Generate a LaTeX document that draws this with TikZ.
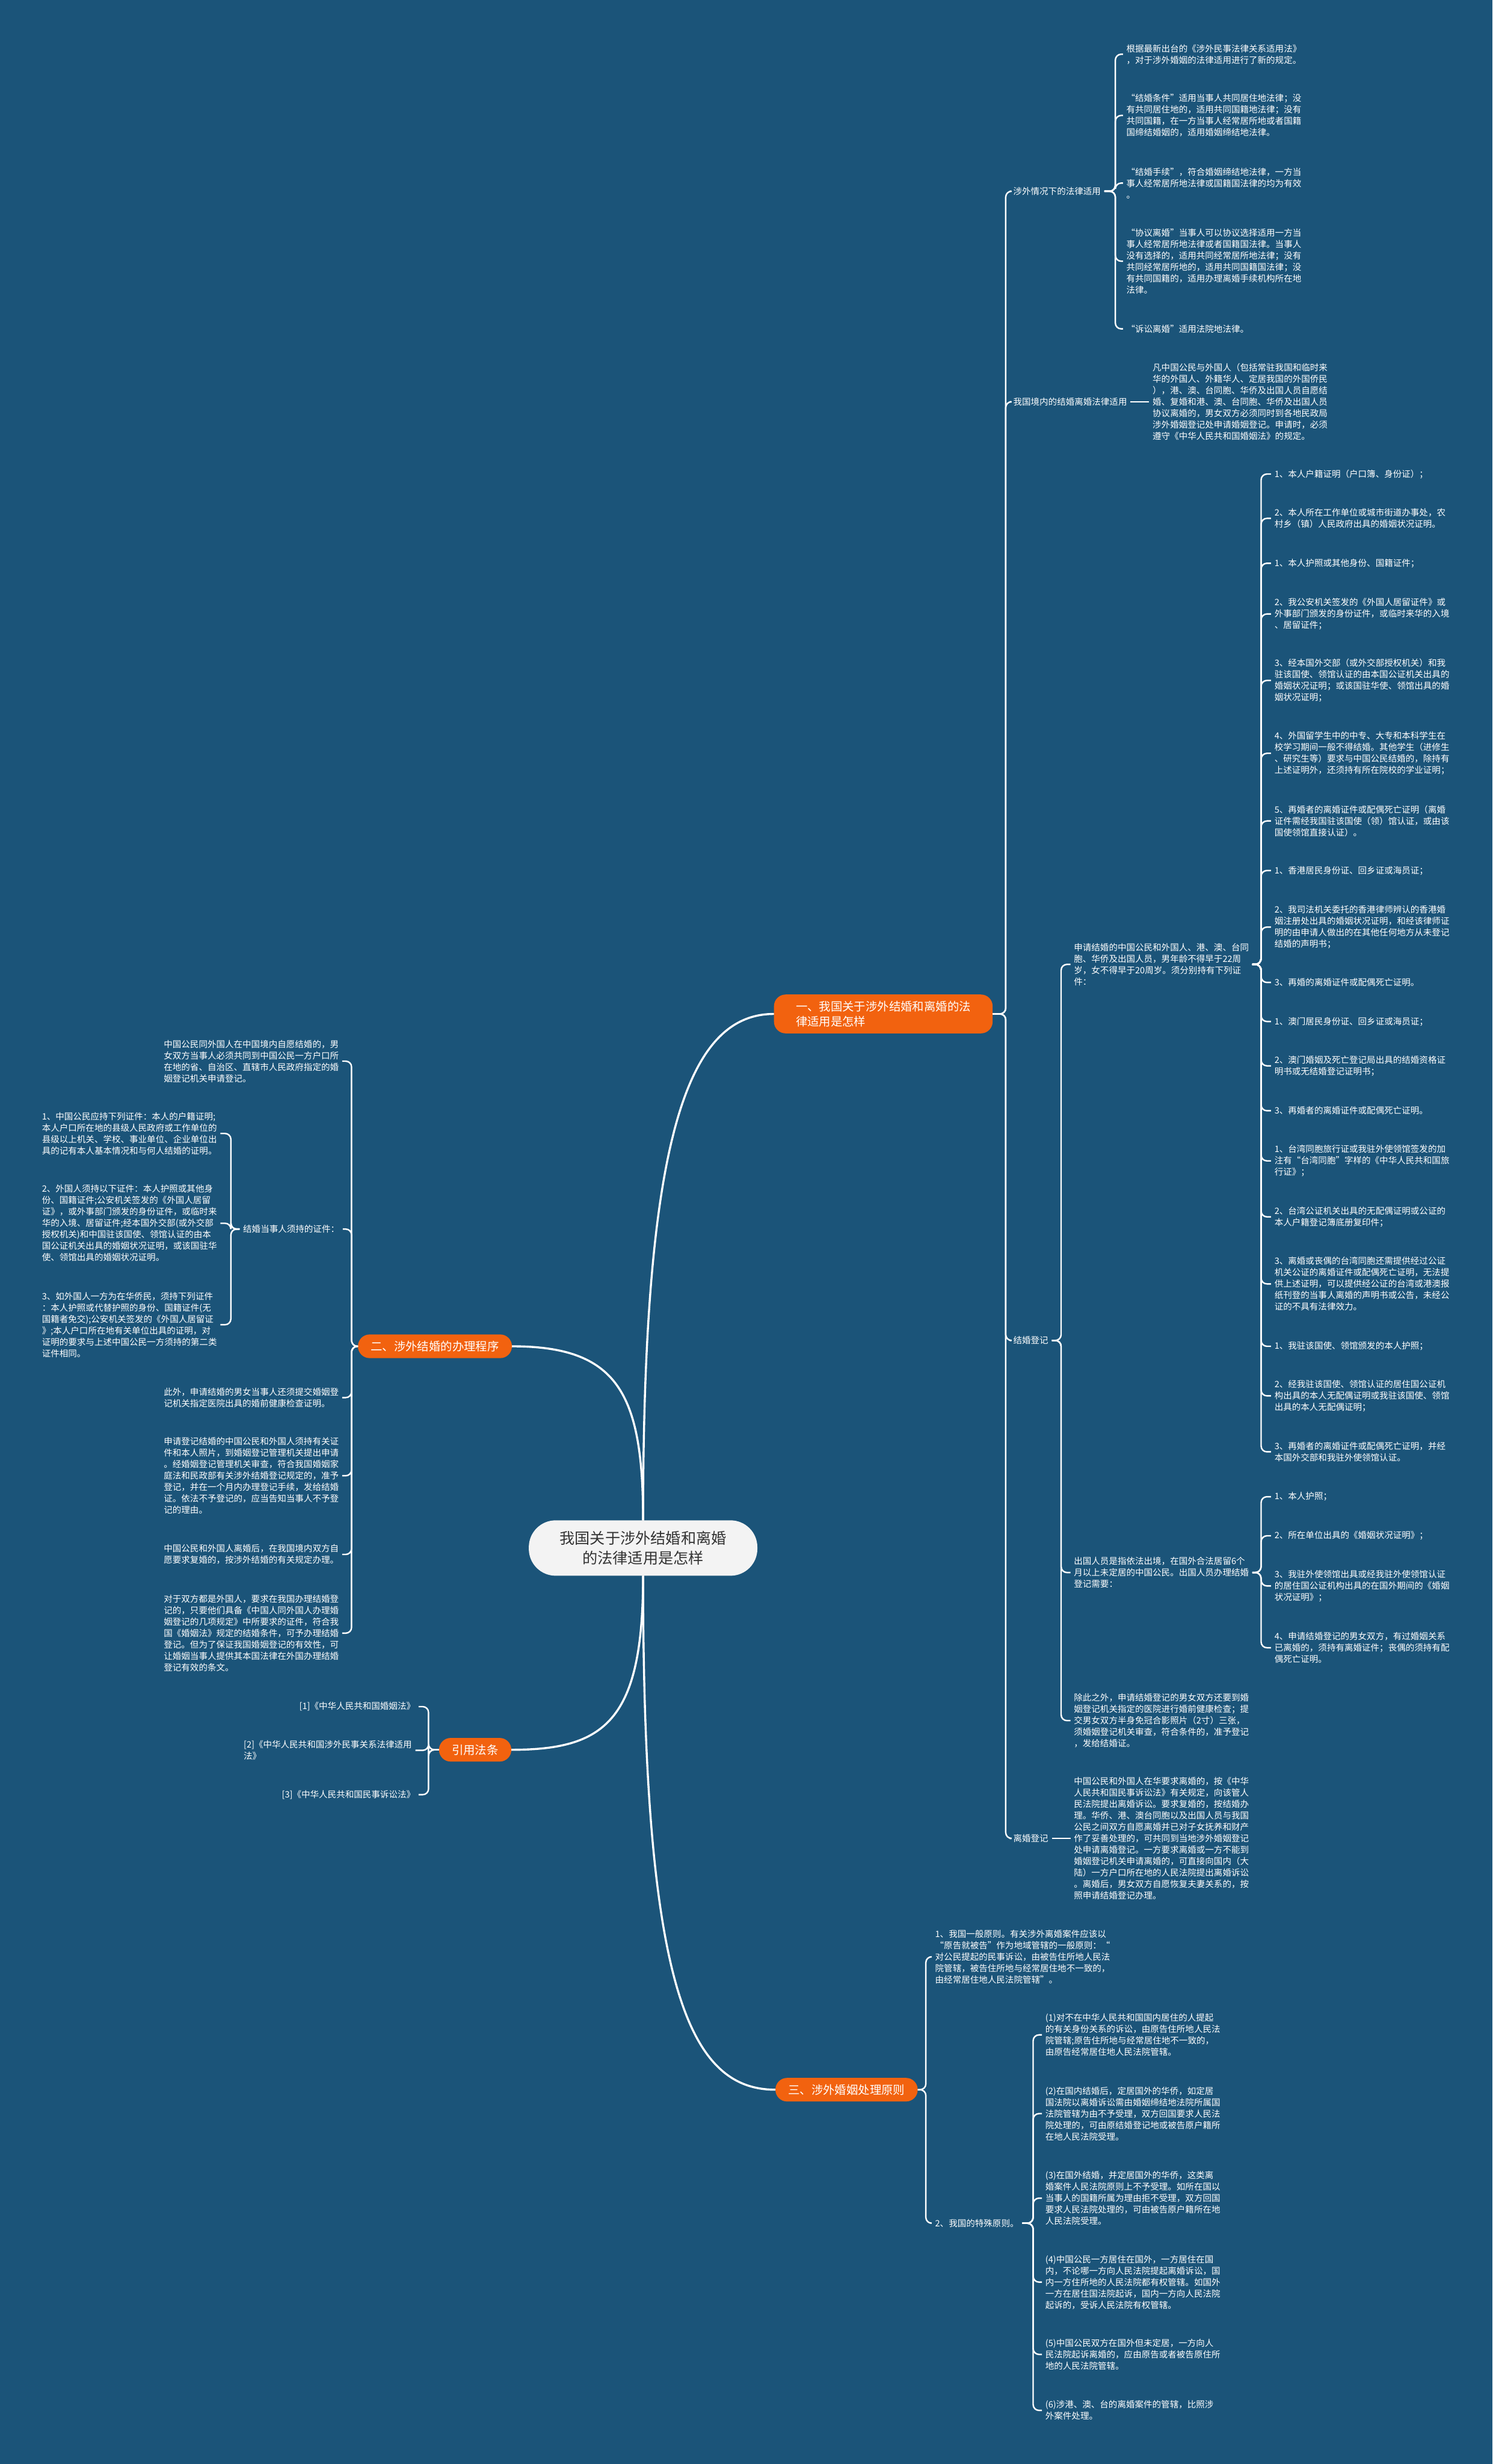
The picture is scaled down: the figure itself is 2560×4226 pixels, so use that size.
\documentclass[tikz,border=0pt]{standalone}
\usepackage{fontspec}
\setmainfont{Noto Sans CJK SC}
\usetikzlibrary{positioning}

\definecolor{bgblue}{HTML}{1B5479}
\definecolor{topicorange}{HTML}{F2620F}
\definecolor{rootfill}{HTML}{F3F3F3}
\definecolor{roottext}{HTML}{333333}

\newcommand{\leaffont}{\fontsize{15}{19.6}\selectfont}
\newcommand{\topicfont}{\fontsize{20}{26}\selectfont}
\newcommand{\rootfont}{\fontsize{26}{34}\selectfont}

\tikzstyle{base}=[x=1pt, y=-1pt, inner sep=0pt, outer sep=0pt]
\tikzstyle{leaf}=[text=white, align=left, anchor=west, inner sep=0pt, font=\leaffont]
\tikzstyle{leafr}=[leaf, anchor=east]
\tikzstyle{topic}=[fill=topicorange, text=white, align=left, rounded corners=20pt, inner xsep=22pt, inner ysep=11pt, font=\topicfont]
\tikzstyle{root}=[fill=rootfill, text=roottext, align=center, rounded corners=46pt, minimum width=392pt, minimum height=95pt, font=\rootfont]
\tikzstyle{link}=[draw=white, line width=2.5pt, rounded corners=10pt, shorten <=6pt, shorten >=6pt]
\tikzstyle{stem}=[link, shorten <=0pt]
\tikzstyle{mainlink}=[draw=white, line width=3.5pt]

\begin{document}
\begin{tikzpicture}[base]
        \useasboundingbox (0,0) rectangle (2560,4226);
        \fill[bgblue] (0,0) rectangle (2560,4226);

        % centre and main topics
        \node[root] (root) at (1103,2655) {我国关于涉外结婚和离婚\\的法律适用是怎样};
        \node[topic, minimum width=375pt, inner xsep=30pt] (b1) at (1515,1739) {一、我国关于涉外结婚和离婚的法\\律适用是怎样};
        \node[topic] (b2) at (746,2309) {二、涉外结婚的办理程序};
        \node[topic] (b3) at (1452,3584) {三、涉外婚姻处理原则};
        \node[topic] (b4) at (815,3001) {引用法条};

        \draw[mainlink] (root.north) .. controls +(0,-650) and +(-150,0) .. (b1.west);
        \draw[mainlink] (root.north) .. controls +(0,-220) and +(180,0) .. (b2.east);
        \draw[mainlink] (root.south) .. controls +(0,250) and +(160,0) .. (b4.east);
        \draw[mainlink] (root.south) .. controls +(0,700) and +(-150,0) .. (b3.west);

        % trunk positions
        \coordinate (t1) at (1725,0);
        \coordinate (t2) at (1913,0);
        \coordinate (t3) at (1820,0);
        \coordinate (t4) at (2163,0);
        \coordinate (t5) at (603,0);
        \coordinate (t6) at (396,0);
        \coordinate (t7) at (735,0);
        \coordinate (t8) at (1588,0);
        \coordinate (t9) at (1772,0);

        % branch one
        \node[leaf] (l11) at (1738,328) {涉外情况下的法律适用};
        \node[leaf] (l12) at (1738,689) {我国境内的结婚离婚法律适用};
        \node[leaf] (l13) at (1738,2299) {结婚登记};
        \node[leaf] (l14) at (1738,3153) {离婚登记};

        \node[leaf] (a1) at (1932,93) {根据最新出台的《涉外民事法律关系适用法》\\，对于涉外婚姻的法律适用进行了新的规定。};
        \node[leaf] (a2) at (1932,198) {“结婚条件”适用当事人共同居住地法律；没\\有共同居住地的，适用共同国籍地法律；没有\\共同国籍，在一方当事人经常居所地或者国籍\\国缔结婚姻的，适用婚姻缔结地法律。};
        \node[leaf] (a3) at (1932,314) {“结婚手续”，符合婚姻缔结地法律，一方当\\事人经常居所地法律或国籍国法律的均为有效\\。};
        \node[leaf] (a4) at (1932,448) {“协议离婚”当事人可以协议选择适用一方当\\事人经常居所地法律或者国籍国法律。当事人\\没有选择的，适用共同经常居所地法律；没有\\共同经常居所地的，适用共同国籍国法律；没\\有共同国籍的，适用办理离婚手续机构所在地\\法律。};
        \node[leaf] (a5) at (1932,564) {“诉讼离婚”适用法院地法律。};
        \node[leaf] (a6) at (1977,689) {凡中国公民与外国人（包括常驻我国和临时来\\华的外国人、外籍华人、定居我国的外国侨民\\），港、澳、台同胞、华侨及出国人员自愿结\\婚、复婚和港、澳、台同胞、华侨及出国人员\\协议离婚的，男女双方必须同时到各地民政局\\涉外婚姻登记处申请婚姻登记。申请时，必须\\遵守《中华人民共和国婚姻法》的规定。};

        \node[leaf] (c1) at (1842,1654) {申请结婚的中国公民和外国人、港、澳、台同\\胞、华侨及出国人员，男年龄不得早于22周\\岁，女不得早于20周岁。须分别持有下列证\\件：};
        \node[leaf] (c2) at (1842,2697) {出国人员是指依法出境，在国外合法居留6个\\月以上未定居的中国公民。出国人员办理结婚\\登记需要：};
        \node[leaf] (c3) at (1842,2951) {除此之外，申请结婚登记的男女双方还要到婚\\姻登记机关指定的医院进行婚前健康检查；提\\交男女双方半身免冠合影照片（2寸）三张，\\须婚姻登记机关审查，符合条件的，准予登记\\，发给结婚证。};
        \node[leaf] (c4) at (1842,3153) {中国公民和外国人在华要求离婚的，按《中华\\人民共和国民事诉讼法》有关规定，向该管人\\民法院提出离婚诉讼。要求复婚的，按结婚办\\理。华侨、港、澳台同胞以及出国人员与我国\\公民之间双方自愿离婚并已对子女抚养和财产\\作了妥善处理的，可共同到当地涉外婚姻登记\\处申请离婚登记。一方要求离婚或一方不能到\\婚姻登记机关申请离婚的，可直接向国内（大\\陆）一方户口所在地的人民法院提出离婚诉讼\\。离婚后，男女双方自愿恢复夫妻关系的，按\\照申请结婚登记办理。};

        \node[leaf] (d1) at (2186,813) {1、本人户籍证明（户口簿、身份证）；};
        \node[leaf] (d2) at (2186,889) {2、本人所在工作单位或城市街道办事处，农\\村乡（镇）人民政府出具的婚姻状况证明。};
        \node[leaf] (d3) at (2186,966) {1、本人护照或其他身份、国籍证件；};
        \node[leaf] (d4) at (2186,1053) {2、我公安机关签发的《外国人居留证件》或\\外事部门颁发的身份证件，或临时来华的入境\\、居留证件；};
        \node[leaf] (d5) at (2186,1167) {3、经本国外交部（或外交部授权机关）和我\\驻该国使、领馆认证的由本国公证机关出具的\\婚姻状况证明；或该国驻华使、领馆出具的婚\\姻状况证明；};
        \node[leaf] (d6) at (2186,1292) {4、外国留学生中的中专、大专和本科学生在\\校学习期间一般不得结婚。其他学生（进修生\\、研究生等）要求与中国公民结婚的，除持有\\上述证明外，还须持有所在院校的学业证明；};
        \node[leaf] (d7) at (2186,1408) {5、再婚者的离婚证件或配偶死亡证明（离婚\\证件需经我国驻该国使（领）馆认证，或由该\\国使领馆直接认证）。};
        \node[leaf] (d8) at (2186,1493) {1、香港居民身份证、回乡证或海员证；};
        \node[leaf] (d9) at (2186,1590) {2、我司法机关委托的香港律师辨认的香港婚\\姻注册处出具的婚姻状况证明，和经该律师证\\明的由申请人做出的在其他任何地方从未登记\\结婚的声明书；};
        \node[leaf] (d10) at (2186,1685) {3、再婚的离婚证件或配偶死亡证明。};
        \node[leaf] (d11) at (2186,1752) {1、澳门居民身份证、回乡证或海员证；};
        \node[leaf] (d12) at (2186,1828) {2、澳门婚姻及死亡登记局出具的结婚资格证\\明书或无结婚登记证明书；};
        \node[leaf] (d13) at (2186,1905) {3、再婚者的离婚证件或配偶死亡证明。};
        \node[leaf] (d14) at (2186,1991) {1、台湾同胞旅行证或我驻外使领馆签发的加\\注有“台湾同胞”字样的《中华人民共和国旅\\行证》；};
        \node[leaf] (d15) at (2186,2087) {2、台湾公证机关出具的无配偶证明或公证的\\本人户籍登记簿底册复印件；};
        \node[leaf] (d16) at (2186,2202) {3、离婚或丧偶的台湾同胞还需提供经过公证\\机关公证的离婚证件或配偶死亡证明，无法提\\供上述证明，可以提供经公证的台湾或港澳报\\纸刊登的当事人离婚的声明书或公告，未经公\\证的不具有法律效力。};
        \node[leaf] (d17) at (2186,2309) {1、我驻该国使、领馆颁发的本人护照；};
        \node[leaf] (d18) at (2186,2394) {2、经我驻该国使、领馆认证的居住国公证机\\构出具的本人无配偶证明或我驻该国使、领馆\\出具的本人无配偶证明；};
        \node[leaf] (d19) at (2186,2490) {3、再婚者的离婚证件或配偶死亡证明，并经\\本国外交部和我驻外使领馆认证。};
        \node[leaf] (d20) at (2186,2567) {1、本人护照；};
        \node[leaf] (d21) at (2186,2634) {2、所在单位出具的《婚姻状况证明》；};
        \node[leaf] (d22) at (2186,2720) {3、我驻外使领馆出具或经我驻外使领馆认证\\的居住国公证机构出具的在国外期间的《婚姻\\状况证明》；};
        \node[leaf] (d23) at (2186,2826) {4、申请结婚登记的男女双方，有过婚姻关系\\已离婚的，须持有离婚证件；丧偶的须持有配\\偶死亡证明。};

        \draw[stem] (b1.east) -- (b1.east -| t1) |- (l11.west);
        \draw[stem] (b1.east) -- (b1.east -| t1) |- (l12.west);
        \draw[stem] (b1.east) -- (b1.east -| t1) |- (l13.west);
        \draw[stem] (b1.east) -- (b1.east -| t1) |- (l14.west);
        \draw[link] (l11.east) -- (l11.east -| t2) |- (a1.west);
        \draw[link] (l11.east) -- (l11.east -| t2) |- (a2.west);
        \draw[link] (l11.east) -- (l11.east -| t2) |- (a3.west);
        \draw[link] (l11.east) -- (l11.east -| t2) |- (a4.west);
        \draw[link] (l11.east) -- (l11.east -| t2) |- (a5.west);
        \draw[link] (l12.east) -- (a6.west);
        \draw[link] (l13.east) -- (l13.east -| t3) |- (c1.west);
        \draw[link] (l13.east) -- (l13.east -| t3) |- (c2.west);
        \draw[link] (l13.east) -- (l13.east -| t3) |- (c3.west);
        \draw[link] (l14.east) -- (c4.west);
        \draw[link] (c1.east) -- (c1.east -| t4) |- (d1.west);
        \draw[link] (c1.east) -- (c1.east -| t4) |- (d2.west);
        \draw[link] (c1.east) -- (c1.east -| t4) |- (d3.west);
        \draw[link] (c1.east) -- (c1.east -| t4) |- (d4.west);
        \draw[link] (c1.east) -- (c1.east -| t4) |- (d5.west);
        \draw[link] (c1.east) -- (c1.east -| t4) |- (d6.west);
        \draw[link] (c1.east) -- (c1.east -| t4) |- (d7.west);
        \draw[link] (c1.east) -- (c1.east -| t4) |- (d8.west);
        \draw[link] (c1.east) -- (c1.east -| t4) |- (d9.west);
        \draw[link] (c1.east) -- (c1.east -| t4) |- (d10.west);
        \draw[link] (c1.east) -- (c1.east -| t4) |- (d11.west);
        \draw[link] (c1.east) -- (c1.east -| t4) |- (d12.west);
        \draw[link] (c1.east) -- (c1.east -| t4) |- (d13.west);
        \draw[link] (c1.east) -- (c1.east -| t4) |- (d14.west);
        \draw[link] (c1.east) -- (c1.east -| t4) |- (d15.west);
        \draw[link] (c1.east) -- (c1.east -| t4) |- (d16.west);
        \draw[link] (c1.east) -- (c1.east -| t4) |- (d17.west);
        \draw[link] (c1.east) -- (c1.east -| t4) |- (d18.west);
        \draw[link] (c1.east) -- (c1.east -| t4) |- (d19.west);
        \draw[link] (c2.east) -- (c2.east -| t4) |- (d20.west);
        \draw[link] (c2.east) -- (c2.east -| t4) |- (d21.west);
        \draw[link] (c2.east) -- (c2.east -| t4) |- (d22.west);
        \draw[link] (c2.east) -- (c2.east -| t4) |- (d23.west);

        % branch two
        \node[leaf] (e1) at (281,1820) {中国公民同外国人在中国境内自愿结婚的，男\\女双方当事人必须共同到中国公民一方户口所\\在地的省、自治区、直辖市人民政府指定的婚\\姻登记机关申请登记。};
        \node[leaf] (e2) at (417,2108) {结婚当事人须持的证件：};
        \node[leaf] (e3) at (281,2397) {此外，申请结婚的男女当事人还须提交婚姻登\\记机关指定医院出具的婚前健康检查证明。};
        \node[leaf] (e4) at (281,2531) {申请登记结婚的中国公民和外国人须持有关证\\件和本人照片，到婚姻登记管理机关提出申请\\。经婚姻登记管理机关审查，符合我国婚姻家\\庭法和民政部有关涉外结婚登记规定的，准予\\登记，并在一个月内办理登记手续，发给结婚\\证。依法不予登记的，应当告知当事人不予登\\记的理由。};
        \node[leaf] (e5) at (281,2666) {中国公民和外国人离婚后，在我国境内双方自\\愿要求复婚的，按涉外结婚的有关规定办理。};
        \node[leaf] (e6) at (281,2801) {对于双方都是外国人，要求在我国办理结婚登\\记的，只要他们具备《中国人同外国人办理婚\\姻登记的几项规定》中所要求的证件，符合我\\国《婚姻法》规定的结婚条件，可予办理结婚\\登记。但为了保证我国婚姻登记的有效性，可\\让婚姻当事人提供其本国法律在外国办理结婚\\登记有效的条文。};
        \node[leaf] (f1) at (72,1944) {1、中国公民应持下列证件：本人的户籍证明;\\本人户口所在地的县级人民政府或工作单位的\\县级以上机关、学校、事业单位、企业单位出\\具的记有本人基本情况和与何人结婚的证明。};
        \node[leaf] (f2) at (72,2098) {2、外国人须持以下证件：本人护照或其他身\\份、国籍证件;公安机关签发的《外国人居留\\证》，或外事部门颁发的身份证件，或临时来\\华的入境、居留证件;经本国外交部(或外交部\\授权机关)和中国驻该国使、领馆认证的由本\\国公证机关出具的婚姻状况证明，或该国驻华\\使、领馆出具的婚姻状况证明。};
        \node[leaf] (f3) at (72,2272) {3、如外国人一方为在华侨民，须持下列证件\\：本人护照或代替护照的身份、国籍证件(无\\国籍者免交);公安机关签发的《外国人居留证\\》;本人户口所在地有关单位出具的证明，对\\证明的要求与上述中国公民一方须持的第二类\\证件相同。};

        \draw[stem] (b2.west) -- (b2.west -| t5) |- (e1.east);
        \draw[stem] (b2.west) -- (b2.west -| t5) |- (e2.east);
        \draw[stem] (b2.west) -- (b2.west -| t5) |- (e3.east);
        \draw[stem] (b2.west) -- (b2.west -| t5) |- (e4.east);
        \draw[stem] (b2.west) -- (b2.west -| t5) |- (e5.east);
        \draw[stem] (b2.west) -- (b2.west -| t5) |- (e6.east);
        \draw[link] (e2.west) -- (e2.west -| t6) |- (f1.east);
        \draw[link] (e2.west) -- (e2.west -| t6) |- (f2.east);
        \draw[link] (e2.west) -- (e2.west -| t6) |- (f3.east);

        % cited laws
        \node[leafr] (g1) at (712,2927) {[1]《中华人民共和国婚姻法》};
        \node[leaf] (g2) at (418,3002) {[2]《中华人民共和国涉外民事关系法律适用\\法》};
        \node[leafr] (g3) at (712,3078) {[3]《中华人民共和国民事诉讼法》};

        \draw[stem] (b4.west) -- (b4.west -| t7) |- (g1.east);
        \draw[stem] (b4.west) -- (b4.west -| t7) |- (g2.east);
        \draw[stem] (b4.west) -- (b4.west -| t7) |- (g3.east);

        % branch three
        \node[leaf] (h1) at (1604,3356) {1、我国一般原则。有关涉外离婚案件应该以\\“原告就被告”作为地域管辖的一般原则：“\\对公民提起的民事诉讼，由被告住所地人民法\\院管辖，被告住所地与经常居住地不一致的，\\由经常居住地人民法院管辖”。};
        \node[leaf] (h2) at (1604,3813) {2、我国的特殊原则。};
        \node[leaf] (k1) at (1793,3490) {(1)对不在中华人民共和国国内居住的人提起\\的有关身份关系的诉讼，由原告住所地人民法\\院管辖;原告住所地与经常居住地不一致的，\\由原告经常居住地人民法院管辖。};
        \node[leaf] (k2) at (1793,3625) {(2)在国内结婚后，定居国外的华侨，如定居\\国法院以离婚诉讼需由婚姻缔结地法院所属国\\法院管辖为由不予受理，双方回国要求人民法\\院处理的，可由原结婚登记地或被告原户籍所\\在地人民法院受理。};
        \node[leaf] (k3) at (1793,3770) {(3)在国外结婚，并定居国外的华侨，这类离\\婚案件人民法院原则上不予受理。如所在国以\\当事人的国籍所属为理由拒不受理，双方回国\\要求人民法院处理的，可由被告原户籍所在地\\人民法院受理。};
        \node[leaf] (k4) at (1793,3914) {(4)中国公民一方居住在国外，一方居住在国\\内，不论哪一方向人民法院提起离婚诉讼，国\\内一方住所地的人民法院都有权管辖。如国外\\一方在居住国法院起诉，国内一方向人民法院\\起诉的，受诉人民法院有权管辖。};
        \node[leaf] (k5) at (1793,4038) {(5)中国公民双方在国外但未定居，一方向人\\民法院起诉离婚的，应由原告或者被告原住所\\地的人民法院管辖。};
        \node[leaf] (k6) at (1793,4134) {(6)涉港、澳、台的离婚案件的管辖，比照涉\\外案件处理。};

        \draw[stem] (b3.east) -- (b3.east -| t8) |- (h1.west);
        \draw[stem] (b3.east) -- (b3.east -| t8) |- (h2.west);
        \draw[link] (h2.east) -- (h2.east -| t9) |- (k1.west);
        \draw[link] (h2.east) -- (h2.east -| t9) |- (k2.west);
        \draw[link] (h2.east) -- (h2.east -| t9) |- (k3.west);
        \draw[link] (h2.east) -- (h2.east -| t9) |- (k4.west);
        \draw[link] (h2.east) -- (h2.east -| t9) |- (k5.west);
        \draw[link] (h2.east) -- (h2.east -| t9) |- (k6.west);
\end{tikzpicture}
\end{document}
